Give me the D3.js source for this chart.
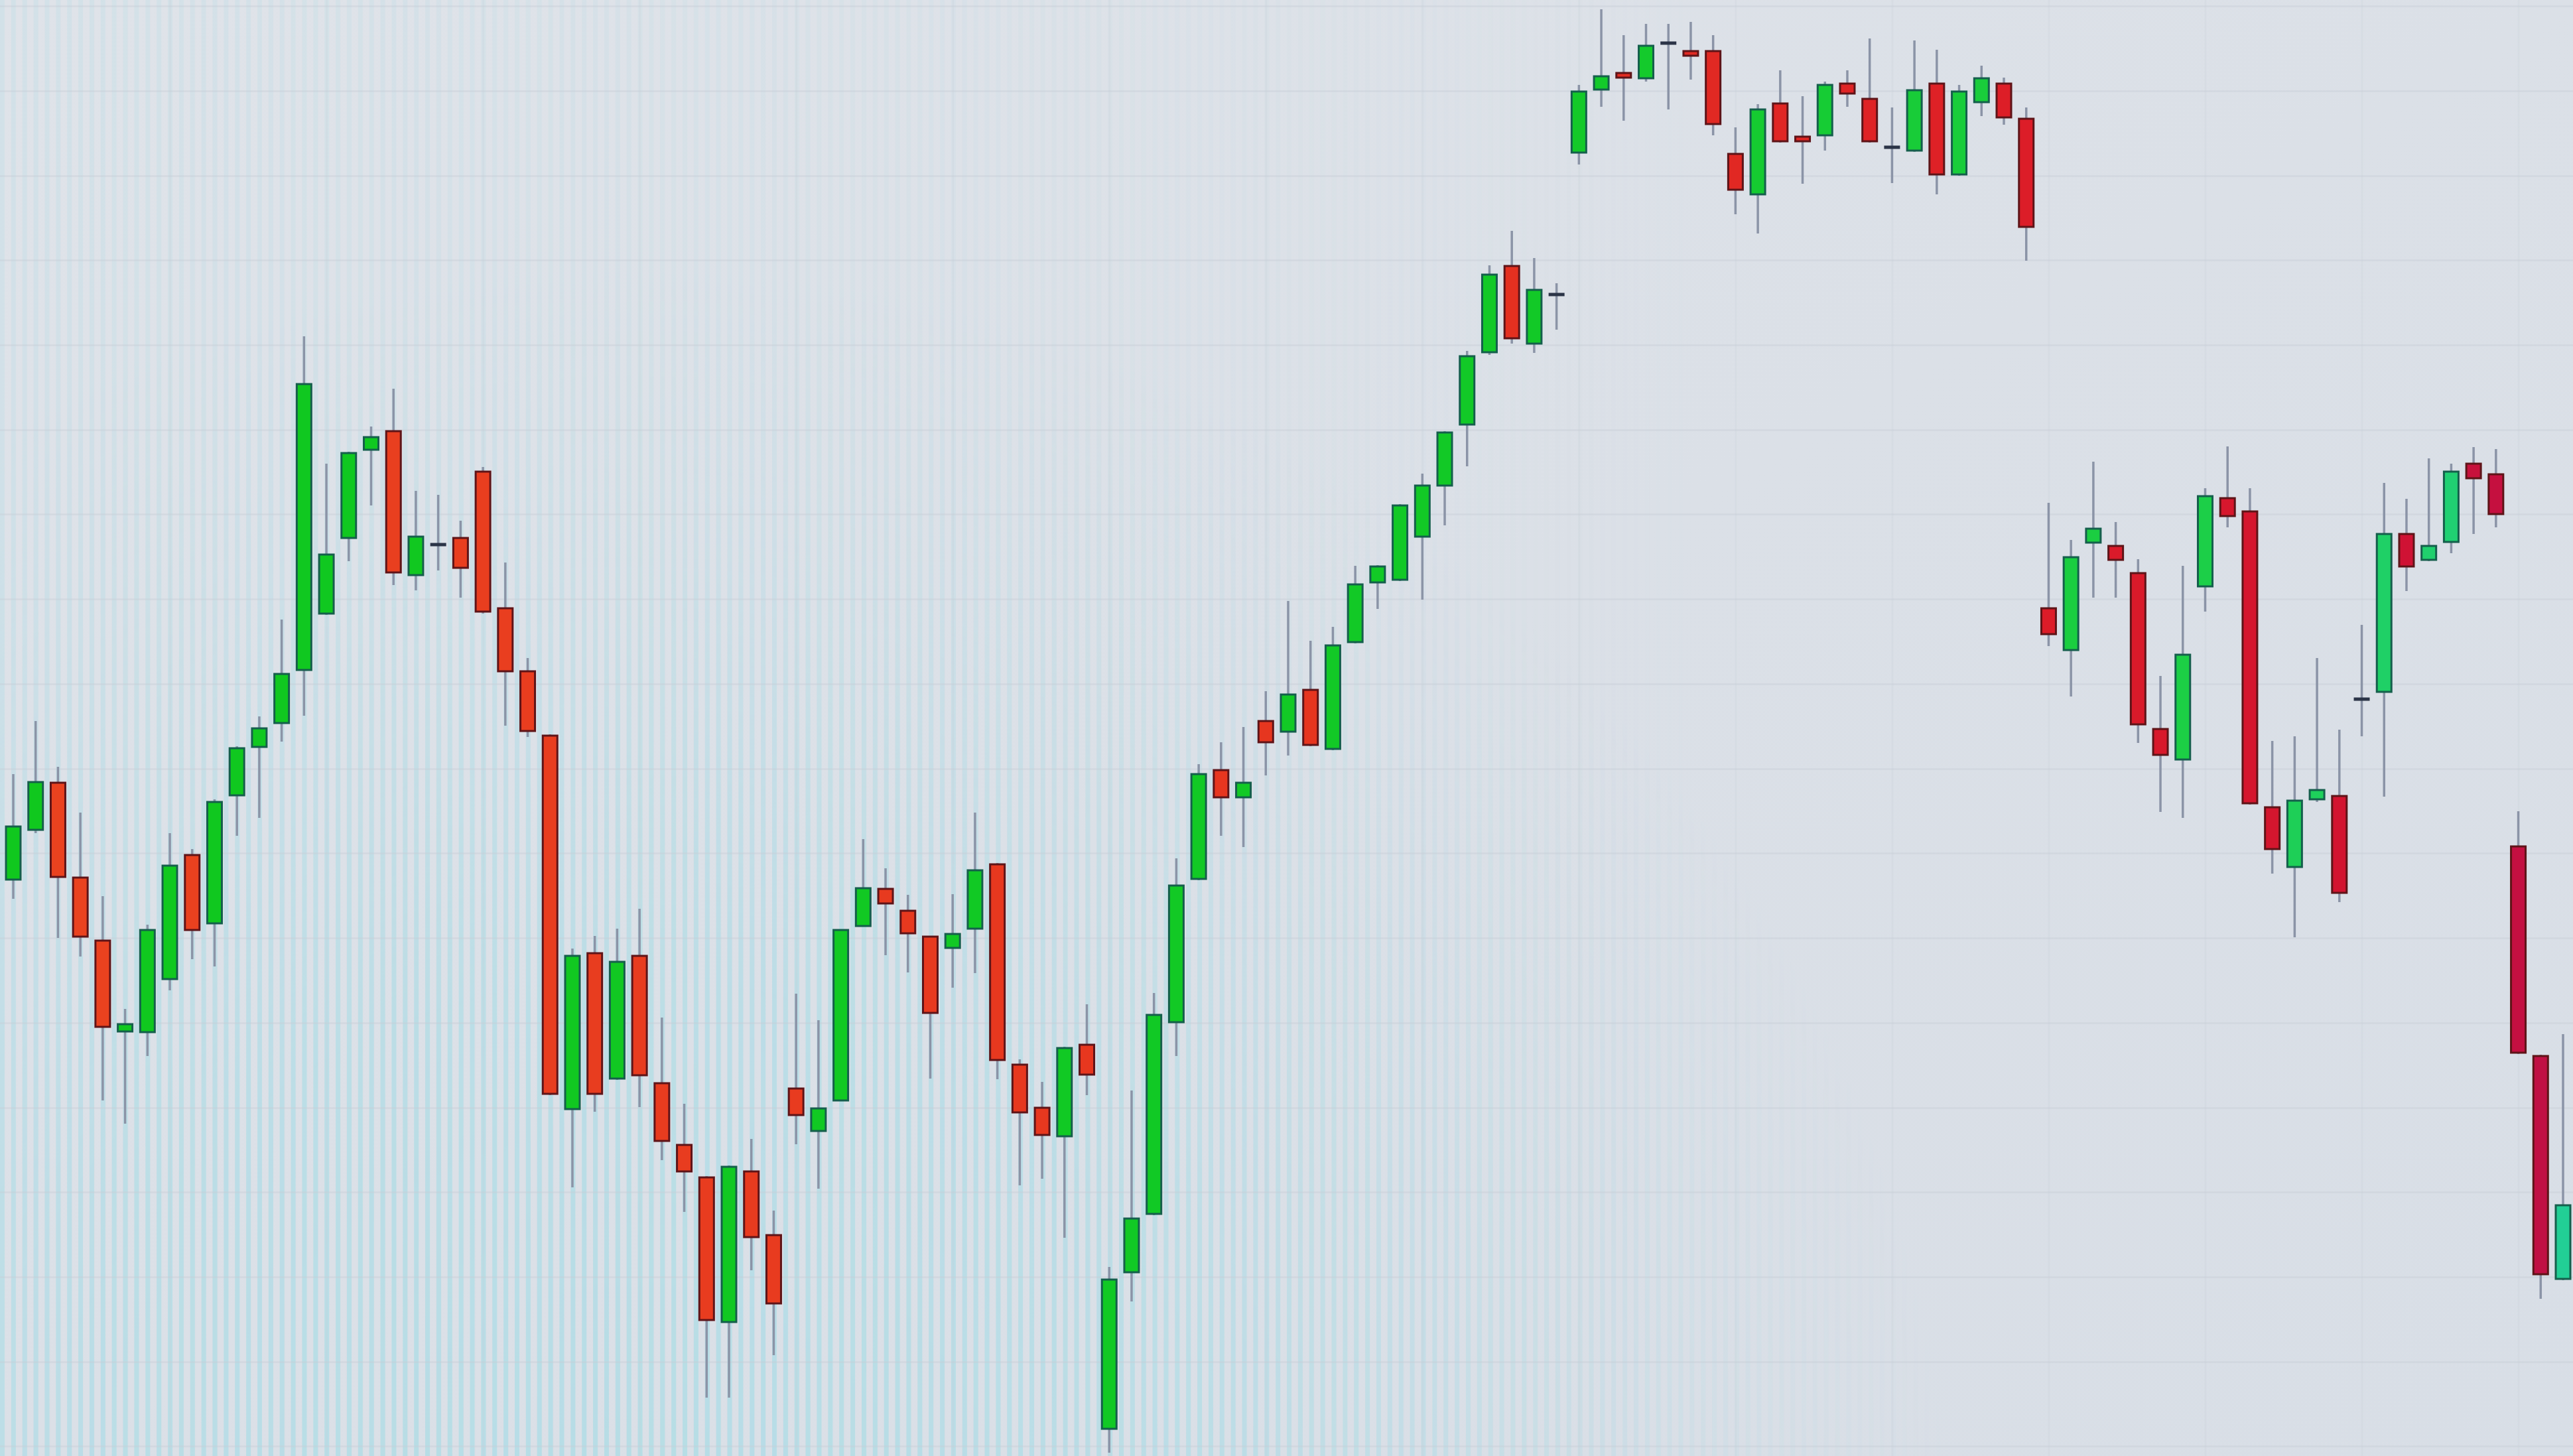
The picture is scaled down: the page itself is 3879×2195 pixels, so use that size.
<!DOCTYPE html>
<html>
<head>
<meta charset="utf-8">
<script src="https://cdn.jsdelivr.net/npm/d3@7"></script>
<style>
  html, body { margin: 0; padding: 0; background: #dce1e7; overflow: hidden; }
  svg { display: block; }
</style>
</head>
<body>
<div id="chart"></div>
<script>
// ---- Data (arbitrary price units) ----
const opens  = [107.4,114.9,122.0,107.7,98.2,84.5,84.4,92.4,111.1,100.8,120.1,127.4,131.0,139.0,147.5,158.9,172.2,175.0,153.3,157.9,158.9,168.9,148.3,138.8,129.1,72.8,96.3,77.4,95.9,76.7,67.4,62.5,40.7,63.4,53.8,75.9,69.5,74.1,100.4,106.0,102.7,98.8,97.1,100.0,109.7,79.5,73.0,68.7,82.5,24.6,48.2,57.0,85.9,107.5,123.9,119.8,131.3,129.7,136.0,127.1,143.2,152.2,152.6,159.1,166.8,176.0,186.9,199.9,188.2,195.6,217.0,226.5,229.0,228.2,233.5,232.3,232.3,216.8,210.7,224.4,219.4,219.6,227.4,225.1,217.8,217.3,227.4,213.7,224.6,227.4,222.1,148.3,142.0,158.2,157.7,153.6,130.1,125.5,151.6,164.9,162.9,118.3,109.3,119.5,120.0,134.6,135.7,159.5,155.6,158.3,170.1,168.5,112.4,80.8,47.2];
const highs  = [123.3,131.3,124.4,117.5,104.9,87.9,100.6,114.4,112.0,119.5,127.5,132.0,146.6,189.3,170.1,171.9,175.7,181.4,166.0,165.4,161.5,169.6,155.2,140.8,129.3,97.0,98.9,100.0,103.0,86.6,73.6,62.7,64.3,68.3,57.5,90.2,86.2,99.9,113.5,109.1,105.1,98.9,105.2,117.5,109.9,80.3,76.9,82.2,88.6,49.0,75.6,90.3,110.6,124.8,128.1,130.4,135.8,149.4,143.4,145.5,154.7,154.8,164.0,168.6,175.0,187.1,200.0,205.2,201.1,197.3,227.2,238.6,234.7,236.4,236.4,236.7,234.7,220.8,224.3,229.4,225.5,227.7,229.4,234.2,223.8,233.9,232.5,227.2,230.1,228.3,223.8,164.2,158.6,170.4,161.3,155.7,138.1,154.7,166.4,172.7,166.4,128.3,129.0,140.8,130.0,145.8,167.2,164.8,170.9,170.1,172.6,172.3,117.7,81.0,84.1];
const lows   = [104.5,114.4,98.6,95.8,74.1,70.6,80.8,90.7,95.4,94.3,114.0,116.7,128.2,132.1,147.3,155.4,163.8,151.8,151.0,154.0,149.9,147.5,130.6,128.9,74.9,61.0,72.4,77.2,73.1,65.1,57.3,29.3,29.3,48.5,35.7,67.5,60.8,74.0,100.3,96.0,93.4,77.4,91.1,93.3,77.3,61.3,62.3,53.4,74.9,21.0,43.8,56.8,80.8,107.3,114.0,112.3,123.1,126.1,127.5,126.9,143.0,148.2,152.4,149.6,160.8,169.7,186.5,188.2,186.8,190.3,215.2,223.9,221.8,227.7,223.5,228.0,219.6,207.7,204.8,218.5,212.3,217.3,223.9,218.5,212.4,217.1,210.7,213.5,222.5,221.2,200.7,142.6,135.0,149.9,149.9,128.0,117.6,116.7,147.8,160.5,118.7,108.3,98.7,119.1,104.0,129.0,119.9,150.9,155.4,156.6,159.5,160.5,81.1,44.2,47.0];
const closes = [115.4,122.1,107.8,98.8,85.2,85.6,99.8,109.5,99.8,119.1,127.2,130.2,138.4,182.1,156.4,171.7,174.1,153.7,159.1,157.9,154.4,147.8,138.8,129.8,75.1,95.9,75.1,95.0,77.9,68.0,63.4,41.0,64.1,53.5,43.5,71.9,72.9,99.8,106.1,103.8,99.3,87.3,99.2,108.8,80.2,72.3,68.9,82.0,78.0,47.1,56.3,87.0,106.5,123.3,119.8,122.0,128.1,135.3,127.7,142.7,151.9,154.6,163.8,166.8,174.8,186.3,198.6,189.0,196.3,195.6,226.2,228.5,228.3,233.1,233.5,231.6,221.3,211.4,223.5,218.7,218.7,227.2,225.9,218.7,217.8,226.4,213.7,226.2,228.2,222.3,205.8,144.4,156.0,160.3,155.6,130.8,126.2,141.3,165.2,162.2,118.9,112.0,119.3,120.9,105.4,134.6,159.5,154.6,157.7,168.9,167.9,162.5,81.3,47.9,58.3];

// horizontal grid levels and vertical grid positions (candle index)
const gridPrices = [239.1,226.3,213.5,200.8,188.0,175.2,162.5,149.7,136.9,124.1,111.4,98.6,85.8,73.0,60.3,47.5,34.7,22.0];
const gridIndices = [7,14,21,28,35,42,49,56,63,70,77,84,91,98,105,112];

// ---- Layout ----
const W = 3879, H = 2195;
const bodyW = 22;

const svg = d3.select("#chart").append("svg")
  .attr("width", W).attr("height", H);

const defs = svg.append("defs");

// background gradient
const bg = defs.append("linearGradient").attr("id", "bgGrad")
  .attr("x1", 0).attr("y1", 0).attr("x2", 1).attr("y2", 1);
bg.append("stop").attr("offset", "0%").attr("stop-color", "#dfe3e9");
bg.append("stop").attr("offset", "50%").attr("stop-color", "#dbe0e7");
bg.append("stop").attr("offset", "100%").attr("stop-color", "#d8dee6");

// moire stripes pattern
const pat = defs.append("pattern").attr("id", "stripes")
  .attr("patternUnits", "userSpaceOnUse")
  .attr("width", 16.87).attr("height", 20);
pat.append("rect").attr("x", 0).attr("y", 0).attr("width", 7).attr("height", 20)
  .attr("fill", "#b6dde6");

// mask: strong lower-left, fading to the right/top
const rg = defs.append("radialGradient").attr("id", "stripeFade")
  .attr("gradientUnits", "userSpaceOnUse")
  .attr("cx", 950).attr("cy", 2400).attr("r", 2000);
rg.append("stop").attr("offset", "0%").attr("stop-color", "#fff").attr("stop-opacity", 1);
rg.append("stop").attr("offset", "45%").attr("stop-color", "#fff").attr("stop-opacity", 0.8);
rg.append("stop").attr("offset", "80%").attr("stop-color", "#fff").attr("stop-opacity", 0.25);
rg.append("stop").attr("offset", "100%").attr("stop-color", "#fff").attr("stop-opacity", 0);
const mask = defs.append("mask").attr("id", "stripeMask")
  .attr("maskUnits", "userSpaceOnUse")
  .attr("x", 0).attr("y", 0).attr("width", W).attr("height", H);
mask.append("rect").attr("width", W).attr("height", H).attr("fill", "url(#stripeFade)");

const lg = defs.append("linearGradient").attr("id", "stripeFade2")
  .attr("gradientUnits", "userSpaceOnUse")
  .attr("x1", 0).attr("y1", 0).attr("x2", 2600).attr("y2", 0);
lg.append("stop").attr("offset", "0%").attr("stop-color", "#fff").attr("stop-opacity", 0.3);
lg.append("stop").attr("offset", "100%").attr("stop-color", "#fff").attr("stop-opacity", 0);
const mask2 = defs.append("mask").attr("id", "stripeMask2")
  .attr("maskUnits", "userSpaceOnUse")
  .attr("x", 0).attr("y", 0).attr("width", W).attr("height", H);
mask2.append("rect").attr("width", W).attr("height", H).attr("fill", "url(#stripeFade2)");

svg.append("rect").attr("width", W).attr("height", H).attr("fill", "url(#bgGrad)");
svg.append("rect").attr("width", W).attr("height", H).attr("fill", "url(#stripes)")
  .attr("mask", "url(#stripeMask)");
svg.append("rect").attr("width", W).attr("height", H).attr("fill", "url(#stripes)")
  .attr("mask", "url(#stripeMask2)");

// ---- Scales ----
const x = d3.scaleLinear().domain([0, opens.length - 1]).range([20, 3864]);
const y = d3.scaleLinear().domain([20.5, 240]).range([H, 0]);

// ---- Grid via axes (very faint, as on the photographed screen) ----
const gy = svg.append("g").attr("class", "grid-y")
  .call(d3.axisLeft(y).tickValues(gridPrices).tickSize(-W).tickFormat(""));
gy.select(".domain").remove();
gy.selectAll(".tick line").attr("stroke", "#c8cfd8").attr("stroke-width", 2.5).attr("opacity", 0.45);

const gx = svg.append("g").attr("class", "grid-x").attr("transform", `translate(0,${H})`)
  .call(d3.axisBottom(x).tickValues(gridIndices).tickSize(-H).tickFormat(""));
gx.select(".domain").remove();
gx.selectAll(".tick line").attr("stroke", "#c9d0d9").attr("stroke-width", 2.5).attr("opacity", 0.25);

// ---- Candles ----
const candles = opens.map((o, i) => ({ i, o, h: highs[i], l: lows[i], c: closes[i] }));

const redScale = d3.scaleLinear().domain([0, 0.55, 0.8, 0.93, 1])
  .range(["#ea431f", "#e6341f", "#dc1c28", "#d01232", "#bd0f48"]);
const greenScale = d3.scaleLinear().domain([0, 0.6, 0.85, 0.95, 1])
  .range(["#10c81e", "#12c927", "#1ccf45", "#20d070", "#22cf98"]);

const g = svg.append("g").attr("class", "candles");

// wicks
g.selectAll("line.wick").data(candles).join("line")
  .attr("class", "wick")
  .attr("x1", d => x(d.i)).attr("x2", d => x(d.i))
  .attr("y1", d => y(d.h)).attr("y2", d => y(d.l))
  .attr("stroke", "#8b94a7").attr("stroke-width", 3.5);

// bodies
const bodies = candles.filter(d => d.o !== d.c);
g.selectAll("rect.body").data(bodies).join("rect")
  .attr("class", "body")
  .attr("x", d => x(d.i) - bodyW / 2)
  .attr("y", d => y(Math.max(d.o, d.c)))
  .attr("width", bodyW)
  .attr("height", d => Math.max(3, Math.abs(y(d.o) - y(d.c))))
  .attr("fill", d => {
    const t = x(d.i) / W;
    return d.c > d.o ? greenScale(t) : redScale(t);
  })
  .attr("stroke", d => d.c > d.o ? "#155f4c" : "#5e1418")
  .attr("stroke-width", 3);

// doji
const dojis = candles.filter(d => d.o === d.c);
g.selectAll("rect.doji").data(dojis).join("rect")
  .attr("class", "doji")
  .attr("x", d => x(d.i) - bodyW / 2 - 1)
  .attr("y", d => y(d.o) - 2.5)
  .attr("width", bodyW + 2)
  .attr("height", 5)
  .attr("fill", "#2b3447");
</script>
</body>
</html>
